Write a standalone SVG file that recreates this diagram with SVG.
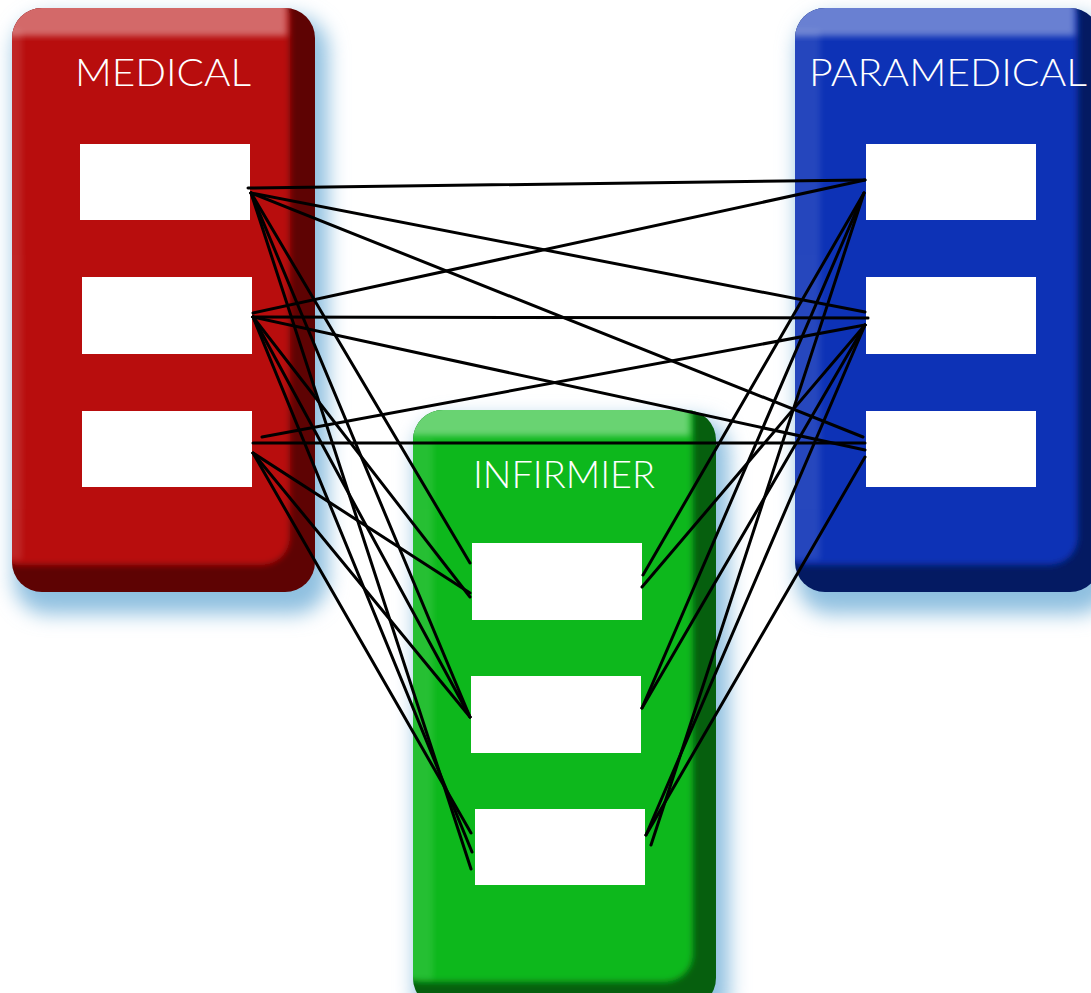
<svg xmlns="http://www.w3.org/2000/svg" width="1091" height="993" viewBox="0 0 1091 993">
<defs>
<filter id="glow" x="-20%" y="-20%" width="140%" height="140%"><feGaussianBlur stdDeviation="10"/></filter>
<filter id="soft" x="-10%" y="-10%" width="120%" height="120%"><feGaussianBlur stdDeviation="3"/></filter>
<clipPath id="cR"><rect x="12" y="8" width="303" height="584" rx="30"/></clipPath>
<clipPath id="cB"><rect x="795" y="8" width="305" height="584" rx="30"/></clipPath>
<clipPath id="cG"><rect x="413" y="410" width="303" height="598" rx="30"/></clipPath>
</defs>
<style>
.glow{fill:#8fc0e0;filter:url(#glow)}
.hl{fill:#fff;opacity:.38;filter:url(#soft)}
.hl2{fill:#fff;opacity:.1;filter:url(#soft)}
.box{fill:#fff}
.title{font-family:Lato,'Open Sans','Liberation Sans',sans-serif;font-weight:300;font-size:37px;fill:#fff;text-anchor:middle}
#connectors line{stroke:#000;stroke-width:3;stroke-linecap:round}
</style>
<rect width="1091" height="993" fill="#fff"/>

<g id="medical">
<rect class="glow" x="14" y="16" width="314" height="598" rx="34"/>
<g clip-path="url(#cR)">
<rect x="12" y="8" width="303" height="584" fill="#5e0303"/>
<rect x="-10" y="-10" width="300" height="575" rx="28" fill="#b80b0b" filter="url(#soft)"/>
<rect class="hl" x="-10" y="-10" width="297" height="46"/>
<rect class="hl2" x="-10" y="30" width="32" height="530"/>
</g>
<text class="title" x="163" y="86" textLength="176" lengthAdjust="spacingAndGlyphs">MEDICAL</text>
<rect id="m1" class="box" x="80" y="144" width="170" height="76"/>
<rect id="m2" class="box" x="82" y="277" width="170" height="77"/>
<rect id="m3" class="box" x="82" y="411" width="170" height="76"/>
</g>

<g id="paramedical">
<rect class="glow" x="797" y="16" width="314" height="598" rx="34"/>
<g clip-path="url(#cB)">
<rect x="795" y="8" width="305" height="584" fill="#041a62"/>
<rect x="775" y="-10" width="303" height="575" rx="28" fill="#0a31b6" filter="url(#soft)"/>
<rect class="hl" x="775" y="-10" width="300" height="46"/>
<rect class="hl2" x="775" y="30" width="45" height="530"/>
</g>
<text class="title" x="948" y="86" textLength="278" lengthAdjust="spacingAndGlyphs">PARAMEDICAL</text>
<rect id="p1" class="box" x="866" y="144" width="170" height="76"/>
<rect id="p2" class="box" x="866" y="277" width="170" height="77"/>
<rect id="p3" class="box" x="866" y="411" width="170" height="76"/>
</g>

<g id="infirmier">
<rect class="glow" x="415" y="418" width="314" height="610" rx="34"/>
<g clip-path="url(#cG)">
<rect x="413" y="410" width="303" height="598" fill="#065f0e"/>
<rect x="393" y="390" width="300" height="592" rx="28" fill="#0bb81b" filter="url(#soft)"/>
<rect class="hl" x="393" y="390" width="297" height="46"/>
<rect class="hl2" x="393" y="440" width="40" height="540"/>
</g>
<text class="title" x="564" y="488" textLength="182" lengthAdjust="spacingAndGlyphs">INFIRMIER</text>
<rect id="i1" class="box" x="472" y="543" width="170" height="77"/>
<rect id="i2" class="box" x="471" y="676" width="170" height="77"/>
<rect id="i3" class="box" x="475" y="809" width="170" height="76"/>
</g>

<g id="connectors">
<line x1="248" y1="188" x2="865" y2="180"/>
<line x1="251" y1="193" x2="865" y2="312"/>
<line x1="251" y1="193" x2="863" y2="437"/>
<line x1="253" y1="313" x2="865" y2="180"/>
<line x1="253" y1="317" x2="868" y2="318"/>
<line x1="253" y1="317" x2="865" y2="450"/>
<line x1="262" y1="437" x2="865" y2="325"/>
<line x1="253" y1="443" x2="865" y2="443"/>
<line x1="251" y1="193" x2="470" y2="563"/>
<line x1="251" y1="193" x2="470" y2="717"/>
<line x1="251" y1="193" x2="471" y2="869"/>
<line x1="253" y1="317" x2="470" y2="597"/>
<line x1="253" y1="317" x2="470" y2="717"/>
<line x1="253" y1="317" x2="472" y2="852"/>
<line x1="253" y1="453" x2="470" y2="593"/>
<line x1="253" y1="453" x2="470" y2="717"/>
<line x1="253" y1="453" x2="471" y2="833"/>
<line x1="643" y1="575" x2="864" y2="193"/>
<line x1="642" y1="587" x2="865" y2="325"/>
<line x1="642" y1="708" x2="864" y2="193"/>
<line x1="642" y1="708" x2="865" y2="325"/>
<line x1="651" y1="845" x2="864" y2="193"/>
<line x1="646" y1="835" x2="865" y2="325"/>
<line x1="646" y1="835" x2="865" y2="457"/>
</g>
</svg>
